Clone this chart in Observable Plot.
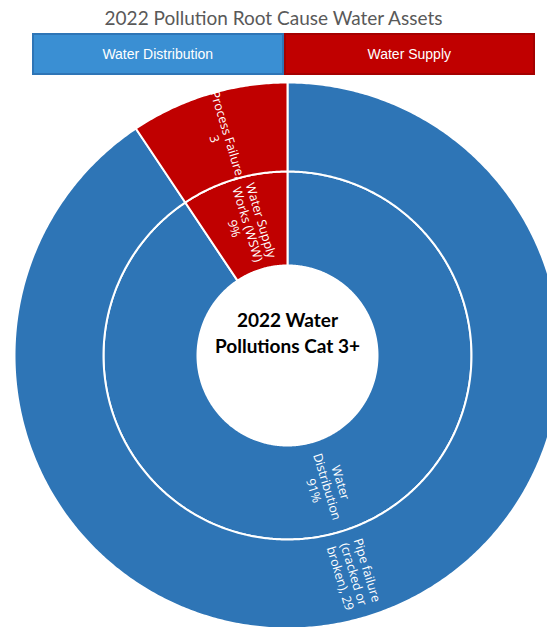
<!DOCTYPE html>
<html><head><meta charset="utf-8">
<script src="https://cdn.jsdelivr.net/npm/d3@7"></script>
<script src="https://cdn.jsdelivr.net/npm/@observablehq/plot@0.6"></script>
<style>
html,body{margin:0;padding:0;background:#fff;overflow:hidden;width:547px;height:627px;position:relative}
#title{position:absolute;left:0;top:6px;width:547px;text-align:center;font:19px Lato,sans-serif;color:#595959;line-height:24px}
#legend{position:absolute;left:32px;top:33px;width:503px;height:42px;display:flex}
#legend div{flex:1;display:flex;align-items:center;justify-content:center;color:#fff;font:14px "Liberation Sans",Arial,sans-serif;box-sizing:border-box}
#chart{position:absolute;left:0;top:80px;width:547px;height:547px;overflow:hidden}
</style></head><body>
<div id="title"></div>
<div id="legend"></div>
<div id="chart"></div>
<script>
// ---- data ----
const chartTitle = "2022 Pollution Root Cause Water Assets";
const centerTitle = "2022 Water\nPollutions Cat 3+";
const groups = ["Water Distribution", "Water Supply"];
const groupColors = ["#2E75B6", "#C00000"];
const legendColors = ["#3A8FD3", "#C00000"];
const legendBorders = ["#2E75B6", "#A50000"];
const innerNames = ["Water\nDistribution", "Water Supply\nWorks (WSW)"];
const outerNames = ["Pipe failure\n(cracked or\nbroken),", "Process Failure,"];
const outerSeparators = [" ", "\n"];
const outerValues = [29, 3];

// ---- header ----
document.getElementById("title").textContent = chartTitle;
const legend = document.getElementById("legend");
groups.forEach((g, i) => {
  const d = document.createElement("div");
  d.textContent = g;
  d.style.background = legendColors[i];
  d.style.border = `2px solid ${legendBorders[i]}`;
  legend.appendChild(d);
});

// ---- geometry from data ----
const R_HOLE = 90, R_MID = 184, R_OUT = 273;
const total = d3.sum(outerValues);
let acc = 0;
const segs = groups.map((g, i) => {
  const a0 = acc / total * 2 * Math.PI;
  acc += outerValues[i];
  const a1 = acc / total * 2 * Math.PI;
  return {group: g, i, a0, a1, value: outerValues[i]};
});

function ringPoints(r0, r1, s, key) {
  const n = Math.max(2, Math.ceil((s.a1 - s.a0) / (Math.PI / 360)));
  const pts = [];
  for (let k = 0; k <= n; k++) {
    const a = s.a0 + (s.a1 - s.a0) * k / n;
    pts.push({key, group: s.group, x: r1 * Math.sin(a), y: -r1 * Math.cos(a)});
  }
  for (let k = n; k >= 0; k--) {
    const a = s.a0 + (s.a1 - s.a0) * k / n;
    pts.push({key, group: s.group, x: r0 * Math.sin(a), y: -r0 * Math.cos(a)});
  }
  return pts;
}

const polys = segs.flatMap(s => [
  ...ringPoints(R_HOLE, R_MID, s, "in" + s.i),
  ...ringPoints(R_MID, R_OUT, s, "out" + s.i)
]);

function rot(mDeg) {
  const r = mDeg + 90;
  return (((r + 90) % 180) + 180) % 180 - 90;
}
const labels = segs.flatMap(s => {
  const m = (s.a0 + s.a1) / 2;
  const deg = m * 180 / Math.PI;
  const rIn = (R_HOLE + R_MID) / 2, rOut = (R_MID + R_OUT) / 2;
  return [
    {x: rIn * Math.sin(m), y: -rIn * Math.cos(m), rotate: rot(deg),
     text: `${innerNames[s.i]}\n${Math.round(s.value / total * 100)}%`},
    {x: rOut * Math.sin(m), y: -rOut * Math.cos(m), rotate: rot(deg),
     text: `${outerNames[s.i]}${outerSeparators[s.i]}${s.value}`}
  ];
});

const plot = Plot.plot({
  width: 547, height: 547,
  margin: 0,
  x: {domain: [-287, 260], range: [0, 547], axis: null},
  y: {domain: [-275, 272], range: [0, 547], axis: null},
  color: {domain: groups, range: groupColors},
  style: {background: "transparent"},
  marks: [
    Plot.line(polys, {x: "x", y: "y", z: "key", fill: "group", stroke: "white", strokeWidth: 2, curve: "linear-closed"}),
    Plot.text(labels, {x: "x", y: "y", text: "text", rotate: "rotate", fill: "white",
      fontSize: 12.5, fontFamily: "Open Sans", lineHeight: 1.12, textAnchor: "middle", lineAnchor: "middle"}),
    Plot.text([centerTitle], {x: () => 0, y: () => 0, dy: -24, text: d => d, fill: "black",
      fontSize: 19, fontWeight: "bold", fontFamily: "Lato", lineHeight: 1.35, lineAnchor: "middle"})
  ]
});
document.getElementById("chart").appendChild(plot);
</script>
</body></html>
